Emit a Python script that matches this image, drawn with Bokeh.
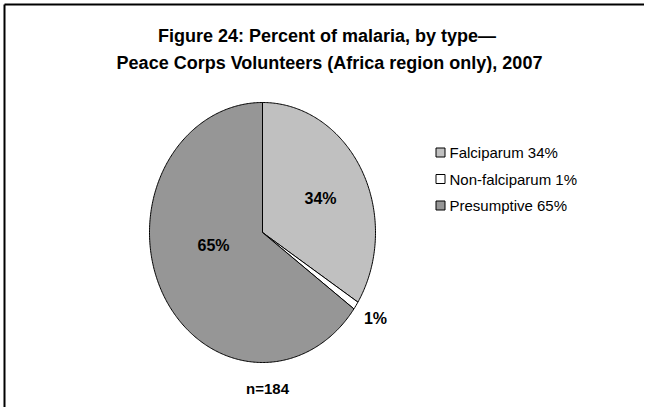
import numpy as np
from bokeh.plotting import figure
from bokeh.models import Range1d
from bokeh.core.properties import value
from bokeh.embed import file_html
from bokeh.resources import INLINE

# ---- data ----
categories = ["Falciparum", "Non-falciparum", "Presumptive"]
percents = [34, 1, 65]
colors = ["#C0C0C0", "#FFFFFF", "#969696"]
n_total = 184
title_lines = ["Figure 24:  Percent of malaria, by type\u2014",
               "Peace Corps Volunteers (Africa region only), 2007"]

FONT = value("Liberation Sans")

W, H = 644, 407
OFF = 1  # screen offset of the canvas in the photographed page
p = figure(width=W, height=H, output_backend="svg", toolbar_location=None,
           x_range=Range1d(OFF, OFF + W), y_range=Range1d(OFF + H, OFF),
           min_border=0)
p.axis.visible = False
p.grid.visible = False
p.outline_line_color = None
p.background_fill_color = "white"

# frame (top and left edges)
p.segment(x0=[5, 5], y0=[5, 5], x1=[OFF + W, 5], y1=[5, OFF + H],
          line_color="black", line_width=2)

# ---- pie (elliptical as in the reference) ----
cx, cy, rx, ry = 263, 233, 113, 130
fr = np.array(percents, dtype=float) / sum(percents)
edges = np.concatenate([[0], np.cumsum(fr)]) * 2 * np.pi
xs, ys = [], []
for a0, a1 in zip(edges[:-1], edges[1:]):
    t = np.linspace(a0, a1, max(4, int((a1 - a0) * 80)))
    xs.append(list(np.concatenate([[cx], cx + rx * np.sin(t), [cx]])))
    ys.append(list(np.concatenate([[cy], cy - ry * np.cos(t), [cy]])))
p.patches(xs=xs, ys=ys, fill_color=colors, line_color="black", line_width=1)

# slice labels (layout positions)
lx = [321, 376, 214]
ly = [199, 319, 246]
p.text(x=lx, y=ly, text=[f"{v}%" for v in percents], text_font=FONT,
       text_font_style="bold", text_font_size="16px", text_align="center",
       text_baseline="middle", text_color="black")

p.text(x=[268], y=[389], text=[f"n={n_total}"], text_font=FONT,
       text_font_style="bold", text_font_size="15px", text_align="center",
       text_baseline="middle", text_color="black")

# title
p.text(x=[330, 330], y=[36, 63], text=title_lines, text_font=FONT,
       text_font_style="bold", text_font_size="18px", text_align="center",
       text_baseline="middle", text_color="black")

# legend
leg_y = [153 + 26.5 * i for i in range(len(categories))]
p.rect(x=[441] * 3, y=leg_y, width=9, height=9, fill_color=colors,
       line_color="black", line_width=1)
p.text(x=[450] * 3, y=leg_y,
       text=[f"{c} {v}%" for c, v in zip(categories, percents)],
       text_font=FONT, text_font_size="15px", text_align="left",
       text_baseline="middle", text_color="black")

open("out.html", "w").write(file_html(p, INLINE))
